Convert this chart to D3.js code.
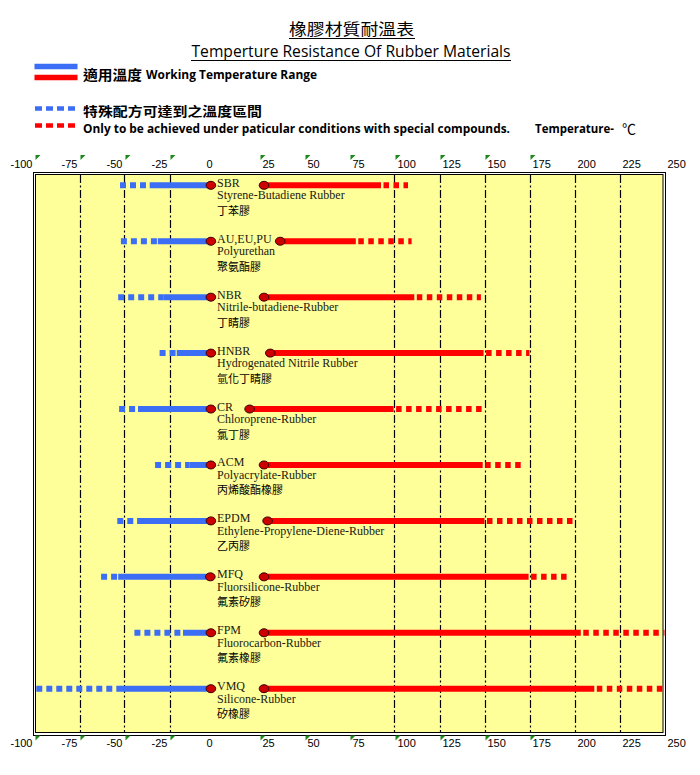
<!DOCTYPE html>
<html><head><meta charset="utf-8">
<script src="https://cdn.jsdelivr.net/npm/d3@7"></script>
<style>body{margin:0;background:#fff}svg{display:block}</style>
</head><body>
<svg id="chart" width="700" height="775"></svg>
<script>
// ---- data ----
const codes = ["SBR","AU,EU,PU","NBR","HNBR","CR","ACM","EPDM","MFQ","FPM","VMQ"];
const namesEn = ["Styrene-Butadiene Rubber","Polyurethan","Nitrile-butadiene-Rubber","Hydrogenated Nitrile Rubber","Chloroprene-Rubber","Polyacrylate-Rubber","Ethylene-Propylene-Diene-Rubber","Fluorsilicone-Rubber","Fluorocarbon-Rubber","Silicone-Rubber"];
const namesZh = ["丁苯膠","聚氨酯膠","丁睛膠","氫化丁睛膠","氯丁膠","丙烯酸酯橡膠","乙丙膠","氟素矽膠","氟素橡膠","矽橡膠"];
const lowSpecial = [-52.5,-52,-53.5,-30.5,-53,-33,-54,-63,-44.5,-99];
const lowWorking = [-36,-31.5,-28.5,-21,-42.5,-14,-43,-53.5,-17.5,-52.5];
const lowEnd     = [-2,-2,-2,-2,-2,-2,-2,-2.3,-2,-2];
const highStart  = [27.5,36.5,27.5,31,19.5,27.5,29.5,27.5,27.5,27.5];
const highWorking= [92.5,78.5,111,149.5,99.5,149,150,174.5,203.5,211];
const highSpecial= [107.5,109.5,148,175,149,172.5,200,197.5,250,250];
const tickValues = [-100,-75,-50,-25,0,25,50,75,100,125,150,175,200,225,250];
const markedTicks = [-100,-75,-50,-25,25,50,75,100,125,150,175];
const gridValues = [-75,-50,-25,100,125,150,175,200,225];

const BLUE = "#3b6ef5", RED = "#ff0000";
const svg = d3.select("#chart");
const x = d3.scaleLinear().domain([-100,250]).range([34.5,664.5]);
const y = d3.scalePoint().domain(codes).range([185.3,688.7]);

// ---- titles ----
svg.append("text").attr("x",289).attr("y",35).
  attr("font-family","Noto Sans CJK TC").attr("font-size",16).attr("textLength",125).attr("lengthAdjust","spacingAndGlyphs").text("橡膠材質耐溫表");
svg.append("line").attr("x1",289).attr("x2",415).attr("y1",38.5).attr("y2",38.5).attr("stroke","#000");
svg.append("text").attr("x",191.5).attr("y",56.5)
  .attr("font-family","Open Sans, Liberation Sans").attr("font-size",16).attr("textLength",319).attr("lengthAdjust","spacingAndGlyphs")
  .text("Temperture Resistance Of Rubber Materials");
svg.append("line").attr("x1",191).attr("x2",511).attr("y1",60.5).attr("y2",60.5).attr("stroke","#000");

// ---- legend ----
const lg = svg.append("g");
lg.append("line").attr("x1",34.5).attr("x2",77.5).attr("y1",66.5).attr("y2",66.5).attr("stroke",BLUE).attr("stroke-width",5.5);
lg.append("line").attr("x1",34.5).attr("x2",77.5).attr("y1",77.5).attr("y2",77.5).attr("stroke",RED).attr("stroke-width",5.5);
lg.append("line").attr("x1",35).attr("x2",76).attr("y1",108.5).attr("y2",108.5).attr("stroke",BLUE).attr("stroke-width",4.5).attr("stroke-dasharray","7,4");
lg.append("line").attr("x1",35).attr("x2",76).attr("y1",125.5).attr("y2",125.5).attr("stroke",RED).attr("stroke-width",4.5).attr("stroke-dasharray","7,4");
const lf = "Open Sans, Liberation Sans";
lg.append("text").attr("x",83).attr("y",79.5).attr("font-family","Noto Sans CJK TC").attr("font-weight","bold").attr("font-size",13.5).attr("textLength",59).attr("lengthAdjust","spacingAndGlyphs").text("適用溫度");
lg.append("text").attr("x",146).attr("y",79).attr("font-family",lf).attr("font-weight","bold").attr("font-size",12.5).attr("textLength",171).attr("lengthAdjust","spacingAndGlyphs").text("Working Temperature Range");
lg.append("text").attr("x",83).attr("y",116).attr("font-family","Noto Sans CJK TC").attr("font-weight","bold").attr("font-size",13).attr("textLength",179).attr("lengthAdjust","spacingAndGlyphs").text("特殊配方可達到之溫度區間");
lg.append("text").attr("x",83).attr("y",133).attr("font-family",lf).attr("font-weight","bold").attr("font-size",12).attr("textLength",427).attr("lengthAdjust","spacingAndGlyphs").text("Only to be achieved under paticular conditions with special compounds.");
lg.append("text").attr("x",535).attr("y",133).attr("font-family",lf).attr("font-weight","bold").attr("font-size",12).attr("textLength",79).attr("lengthAdjust","spacingAndGlyphs").text("Temperature-");
lg.append("text").attr("x",622).attr("y",134).attr("font-family","Noto Sans CJK TC").attr("font-size",14).text("℃");

// ---- frame ----
svg.append("rect").attr("x",33.5).attr("y",172.5).attr("width",632).attr("height",563).attr("fill","#fff").attr("stroke","#000");
svg.append("rect").attr("x",35.5).attr("y",174.5).attr("width",627.5).attr("height",558).attr("fill","#ffff99").attr("stroke","#000");

// ---- grid ----
svg.append("g").selectAll("line").data(gridValues).join("line")
  .attr("x1",d=>Math.round(x(d))+0.5).attr("x2",d=>Math.round(x(d))+0.5)
  .attr("y1",175).attr("y2",732).attr("stroke","#000").attr("stroke-width",1.2).attr("stroke-dasharray","8,2.5,2,2.5");

// ---- axes ----
function styleAxis(g){
  g.select(".domain").remove();
  g.attr("font-family","Liberation Sans, Arial").attr("font-size",11);
  g.selectAll(".tick text").attr("fill","#000")
    .attr("text-anchor",d=>d<=0?"end":"start").attr("dx",d=>d<=0?-2.5:2.5);
}
const fmt = d => String(d);
svg.append("g").attr("transform","translate(0,168)")
  .call(d3.axisTop(x).tickValues(tickValues).tickSize(0).tickPadding(0).tickFormat(fmt)).call(styleAxis);
svg.append("g").attr("transform","translate(0,739)")
  .call(d3.axisBottom(x).tickValues(tickValues).tickSize(0).tickPadding(0).tickFormat(fmt)).call(styleAxis);
// green tick marks
svg.append("g").selectAll("path").data(markedTicks).join("path")
  .attr("d",d=>{const a=x(d)+1;return `M${a},155L${a+5},155L${a},160Z`;}).attr("fill","#1a8a1a");
svg.append("g").selectAll("path").data(markedTicks).join("path")
  .attr("d",d=>{const a=x(d)+1;return `M${a},735.5L${a+5},735.5L${a},740.5Z`;}).attr("fill","#1a8a1a");

// ---- rows ----
const rows = codes.map((c,i)=>({c,i}));
const rg = svg.append("g").selectAll("g").data(rows).join("g");
rg.append("line").attr("x1",d=>x(lowSpecial[d.i])).attr("x2",d=>x(lowWorking[d.i]))
  .attr("y1",d=>y(d.c)).attr("y2",d=>y(d.c)).attr("stroke",BLUE).attr("stroke-width",6).attr("stroke-dasharray","6,4");
rg.append("line").attr("x1",d=>x(lowWorking[d.i])).attr("x2",d=>x(lowEnd[d.i]))
  .attr("y1",d=>y(d.c)).attr("y2",d=>y(d.c)).attr("stroke",BLUE).attr("stroke-width",6);
rg.append("line").attr("x1",d=>x(highWorking[d.i])).attr("x2",d=>x(highSpecial[d.i]))
  .attr("y1",d=>y(d.c)).attr("y2",d=>y(d.c)).attr("stroke",RED).attr("stroke-width",6).attr("stroke-dasharray","5.5,4.5").attr("stroke-dashoffset",5.5+2);
rg.append("line").attr("x1",d=>x(highStart[d.i])).attr("x2",d=>x(highWorking[d.i]))
  .attr("y1",d=>y(d.c)).attr("y2",d=>y(d.c)).attr("stroke",RED).attr("stroke-width",6);
rg.append("ellipse").attr("cx",d=>x(lowEnd[d.i])).attr("cy",d=>y(d.c)).attr("rx",4.8).attr("ry",4)
  .attr("fill","#cc0000").attr("stroke","#3a0000").attr("stroke-width",1);
rg.append("ellipse").attr("cx",d=>x(highStart[d.i])).attr("cy",d=>y(d.c)).attr("rx",4.8).attr("ry",4)
  .attr("fill","#cc0000").attr("stroke","#3a0000").attr("stroke-width",1);
rg.append("text").attr("x",217).attr("y",d=>y(d.c)+1.5).attr("font-family","Liberation Serif, Times New Roman").attr("font-size",12).attr("fill","#1a1a10").text(d=>d.c);
rg.append("text").attr("x",217).attr("y",d=>y(d.c)+14).attr("font-family","Liberation Serif, Times New Roman").attr("font-size",12).attr("fill","#1a1a10").text(d=>namesEn[d.i]);
rg.append("text").attr("x",217).attr("y",d=>y(d.c)+29.5).attr("font-family","Noto Sans CJK TC").attr("font-size",11).attr("fill","#000").text(d=>namesZh[d.i]);
</script>
</body></html>
